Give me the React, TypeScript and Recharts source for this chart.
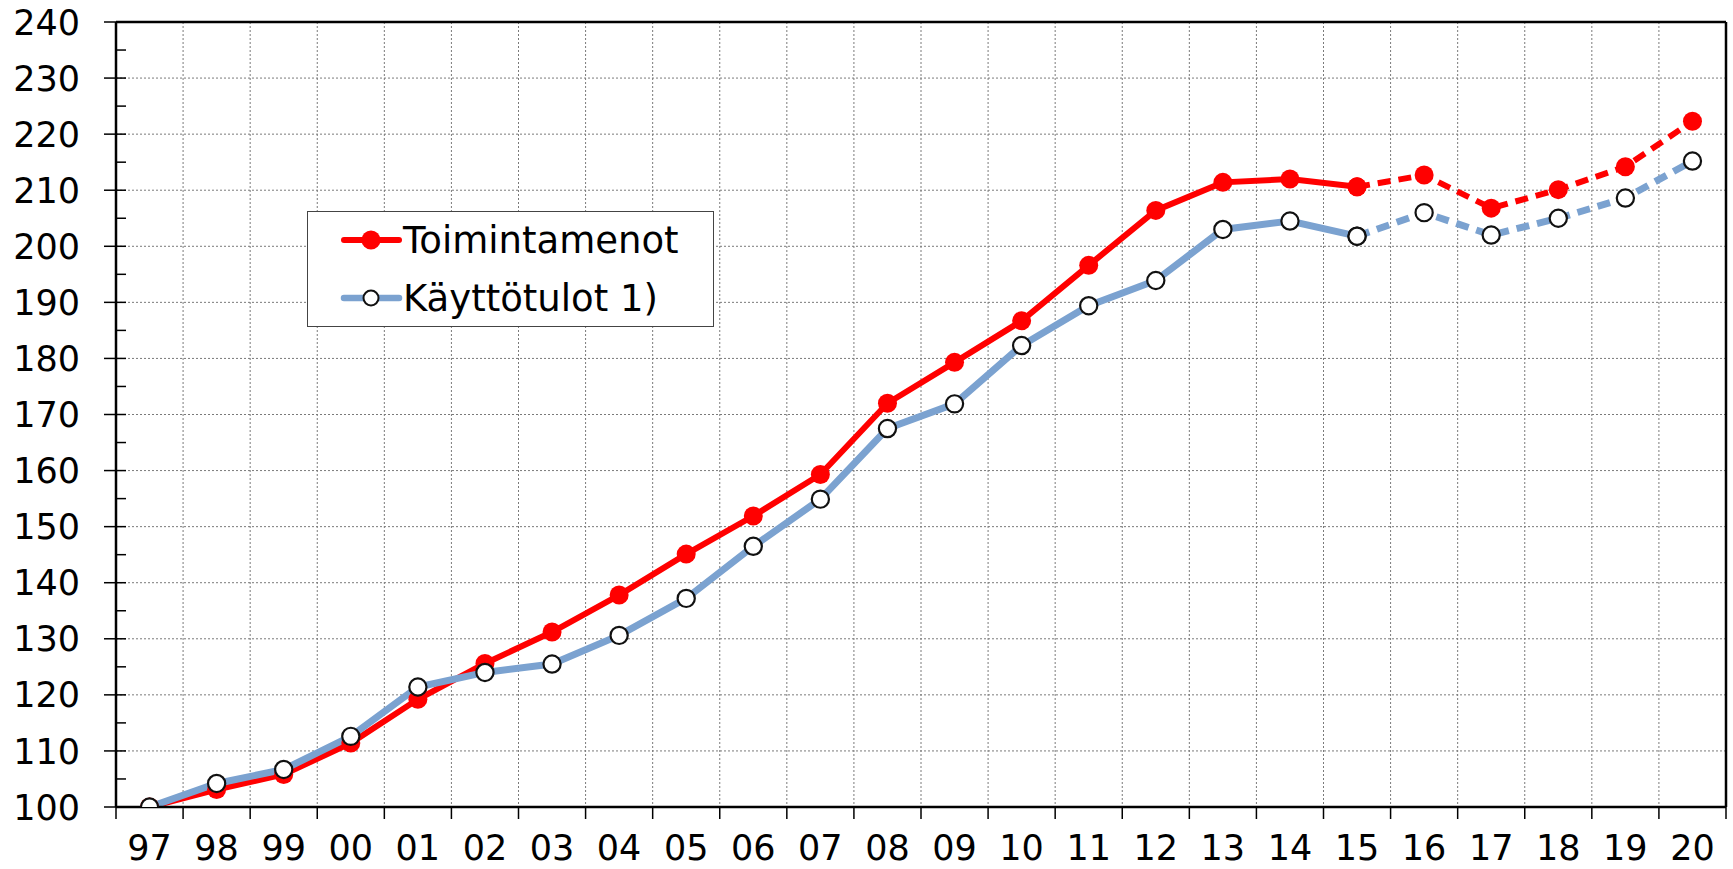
import React from 'react';
import { LineChart, Line, XAxis, YAxis, CartesianGrid, ReferenceLine, Legend } from 'recharts';

// ---- data ----
const years = ['97', '98', '99', '00', '01', '02', '03', '04', '05', '06', '07', '08', '09', '10', '11', '12', '13', '14', '15', '16', '17', '18', '19', '20'];
const toimintamenot = [100, 103.1, 105.8, 111.4, 119.2, 125.6, 131.2, 137.8, 145.1, 151.9, 159.3, 172.0, 179.3, 186.7, 196.6, 206.4, 211.4, 212.0, 210.6, 212.7, 206.8, 210.1, 214.2, 222.3];
const kayttotulot = [100, 104.2, 106.7, 112.6, 121.4, 124.0, 125.5, 130.6, 137.2, 146.5, 154.9, 167.5, 171.9, 182.3, 189.4, 193.9, 203.0, 204.5, 201.8, 206.0, 202.0, 205.0, 208.6, 215.2];
const forecastFrom = '15';
const seriesNames = ['Toimintamenot', 'Käyttötulot 1)'];
const yMajorTicks = [100, 110, 120, 130, 140, 150, 160, 170, 180, 190, 200, 210, 220, 230, 240];
const yMinorTicks = [105, 115, 125, 135, 145, 155, 165, 175, 185, 195, 205, 215, 225, 235];

// ---- layout / style ----
const W = 1733;
const H = 869;
const AXIS_X = 116;
const RIGHT = 7;
const TOP = 22;
const XAXIS_H = 62;
const PLOT_W = W - AXIS_X - RIGHT;
const FONT = '"DejaVu Sans", Verdana, sans-serif';
const FS = 35;
const RED = '#FF0000';
const BLUE = '#7BA2D0';

const fIdx = years.indexOf(forecastFrom);
const data = years.map((y, k) => ({
  i: k,
  year: y,
  redA: k <= fIdx ? toimintamenot[k] : null,
  redB: k >= fIdx ? toimintamenot[k] : null,
  blueA: k <= fIdx ? kayttotulot[k] : null,
  blueB: k >= fIdx ? kayttotulot[k] : null,
}));

const xBoundaries = years.map((_, k) => k - 0.5).concat([years.length - 0.5]);
const yAllTicks = [...yMajorTicks, ...yMinorTicks].sort((a, b) => a - b);
const HALF = PLOT_W / years.length / 2;

const XTick = (props: any) => {
  const { x, y, payload } = props;
  const k = Math.round(payload.value + 0.5);
  if (k < 0 || k >= years.length) return <g />;
  return (
    <text x={x + HALF} y={y} dy={39} textAnchor="middle" fontFamily={FONT} fontSize={FS} fill="#000">
      {years[k]}
    </text>
  );
};

const YTick = (props: any) => {
  const { y, payload } = props;
  const v = payload.value;
  const major = v % 10 === 0;
  return (
    <g>
      <line x1={major ? AXIS_X - 12 : AXIS_X} x2={AXIS_X + 10} y1={y} y2={y} stroke="#000" strokeWidth={1.5} />
      {major && (
        <text x={AXIS_X - 36} y={y} dy="0.36em" textAnchor="end" fontFamily={FONT} fontSize={FS} fill="#000">
          {v}
        </text>
      )}
    </g>
  );
};

const redDot = (p: any) => {
  if (p.cy == null || p.value == null) return <g key={p.key} />;
  return <circle key={p.key} cx={p.cx} cy={p.cy} r={9.5} fill={RED} stroke="none" />;
};
const blueDot = (p: any) => {
  if (p.cy == null || p.value == null) return <g key={p.key} />;
  return <circle key={p.key} cx={p.cx} cy={p.cy} r={8.6} fill="#fff" stroke="#111" strokeWidth={2.2} />;
};

const LegendBox = () => (
  <svg width={407} height={116} style={{ display: 'block' }}>
    <rect x={0.5} y={0.5} width={406} height={115} fill="#fff" stroke="#444" strokeWidth={1} />
    <line x1={37} x2={92} y1={29} y2={29} stroke={RED} strokeWidth={6} strokeLinecap="round" />
    <circle cx={64} cy={29} r={9.5} fill={RED} />
    <text x={96} y={29} dy="0.36em" fontFamily={FONT} fontSize={37} fill="#000">{seriesNames[0]}</text>
    <line x1={37} x2={92} y1={87} y2={87} stroke={BLUE} strokeWidth={6.5} strokeLinecap="round" />
    <circle cx={64} cy={87} r={7.5} fill="#fff" stroke="#111" strokeWidth={2} />
    <text x={96} y={87} dy="0.36em" fontFamily={FONT} fontSize={37} fill="#000">{seriesNames[1]}</text>
  </svg>
);

export default function App() {
  return (
    <div style={{ position: 'absolute', left: 0, top: 0, width: W, height: H, background: '#fff' }}>
      <LineChart width={W} height={H} data={data} margin={{ top: TOP, right: RIGHT, bottom: 0, left: 0 }}>
        <CartesianGrid
          stroke="#7a7a7a"
          strokeDasharray="2 2"
          strokeWidth={1}
          horizontalValues={yMajorTicks}
          verticalValues={xBoundaries}
        />
        <XAxis
          type="number"
          dataKey="i"
          domain={[-0.5, years.length - 0.5]}
          ticks={xBoundaries}
          interval={0}
          height={XAXIS_H}
          tickSize={12}
          tickMargin={2}
          tick={<XTick />}
          axisLine={{ stroke: '#000', strokeWidth: 2.5 }}
          tickLine={{ stroke: '#000', strokeWidth: 1.5 }}
          allowDataOverflow
        />
        <YAxis
          type="number"
          domain={[100, 240]}
          ticks={yAllTicks}
          interval={0}
          width={AXIS_X}
          tickSize={12}
          tickMargin={24}
          tick={<YTick />}
          tickLine={false}
          axisLine={{ stroke: '#000', strokeWidth: 2.5 }}
          allowDataOverflow
        />
        <ReferenceLine y={240} stroke="#000" strokeWidth={2.5} />
        <ReferenceLine x={years.length - 0.5} stroke="#000" strokeWidth={2.5} />
        <Line dataKey="redA" stroke={RED} strokeWidth={6} dot={redDot} activeDot={false} isAnimationActive={false} />
        <Line dataKey="redB" stroke={RED} strokeWidth={6} strokeDasharray="13 8" dot={redDot} activeDot={false} isAnimationActive={false} />
        <Line dataKey="blueA" stroke={BLUE} strokeWidth={7} dot={blueDot} activeDot={false} isAnimationActive={false} />
        <Line dataKey="blueB" stroke={BLUE} strokeWidth={7} strokeDasharray="13 8" dot={blueDot} activeDot={false} isAnimationActive={false} />
        <Legend
          layout="horizontal"
          verticalAlign="middle"
          align="center"
          wrapperStyle={{ position: 'absolute', left: 307, top: 211, width: 407, height: 116 }}
          content={() => <LegendBox />}
        />
      </LineChart>
    </div>
  );
}
